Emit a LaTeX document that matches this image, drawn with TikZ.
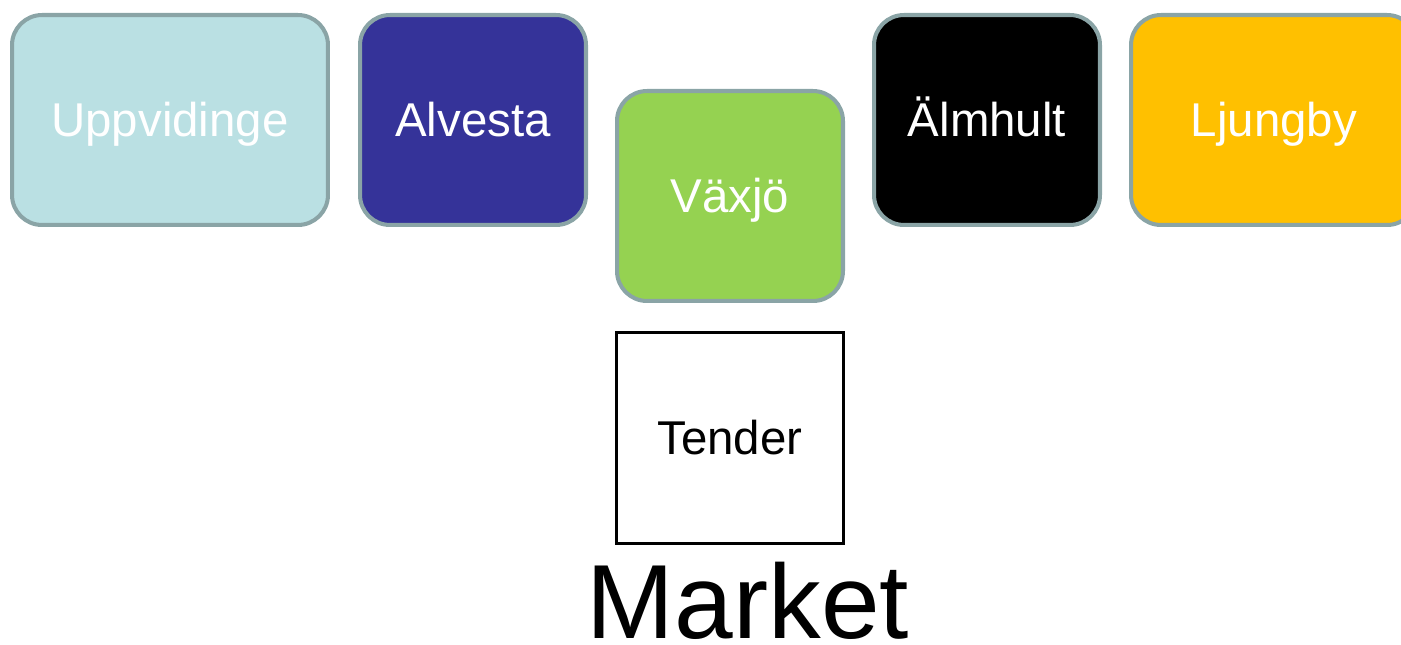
\documentclass[tikz,border=0pt]{standalone}
\usepackage{fontspec}
\setmainfont{Liberation Sans}
\definecolor{rimgray}{HTML}{8AA4A6}
\definecolor{uppblue}{HTML}{BAE0E3}
\definecolor{alvnavy}{HTML}{353399}
\definecolor{vaxgreen}{HTML}{95D251}
\definecolor{ljuyellow}{HTML}{FFC000}

\begin{document}
\begin{tikzpicture}[x=0.02cm,y=-0.02cm,
   kommun/.style={draw=rimgray,line width=2.3pt,rounded corners=0.6cm,text=white,
      minimum width=4.52cm,minimum height=4.2cm,font=\fontsize{27}{30}\selectfont,
      text height=19.3pt,text depth=0pt},
   tenderbox/.style={draw=black,line width=1.7pt,fill=white,
      minimum width=4.54cm,minimum height=4.22cm,font=\fontsize{27}{30}\selectfont,
      text height=19.3pt,text depth=0pt}]
   \useasboundingbox (0,0) rectangle (1401,645); % page
   \node [kommun,fill=uppblue,minimum width=6.32cm] (uppvidinge) at (170,120) {Uppvidinge};
   \node [kommun,fill=alvnavy] (alvesta) at (473,120) {Alvesta};
   \node [kommun,fill=vaxgreen] (vaxjo) at (730,196) {Växjö};
   \node [kommun,fill=black] (almhult) at (987,120) {Älmhult};
   \node [kommun,fill=ljuyellow,minimum width=5.72cm] (ljungby) at (1274,120) {Ljungby}; % runs off the page
   \node [tenderbox] (tender) at (730,438) {Tender};
   \node [anchor=base,font=\fontsize{60}{64}\selectfont,inner sep=0pt] (market) at (748,638) {Market};
\end{tikzpicture}
\end{document}
